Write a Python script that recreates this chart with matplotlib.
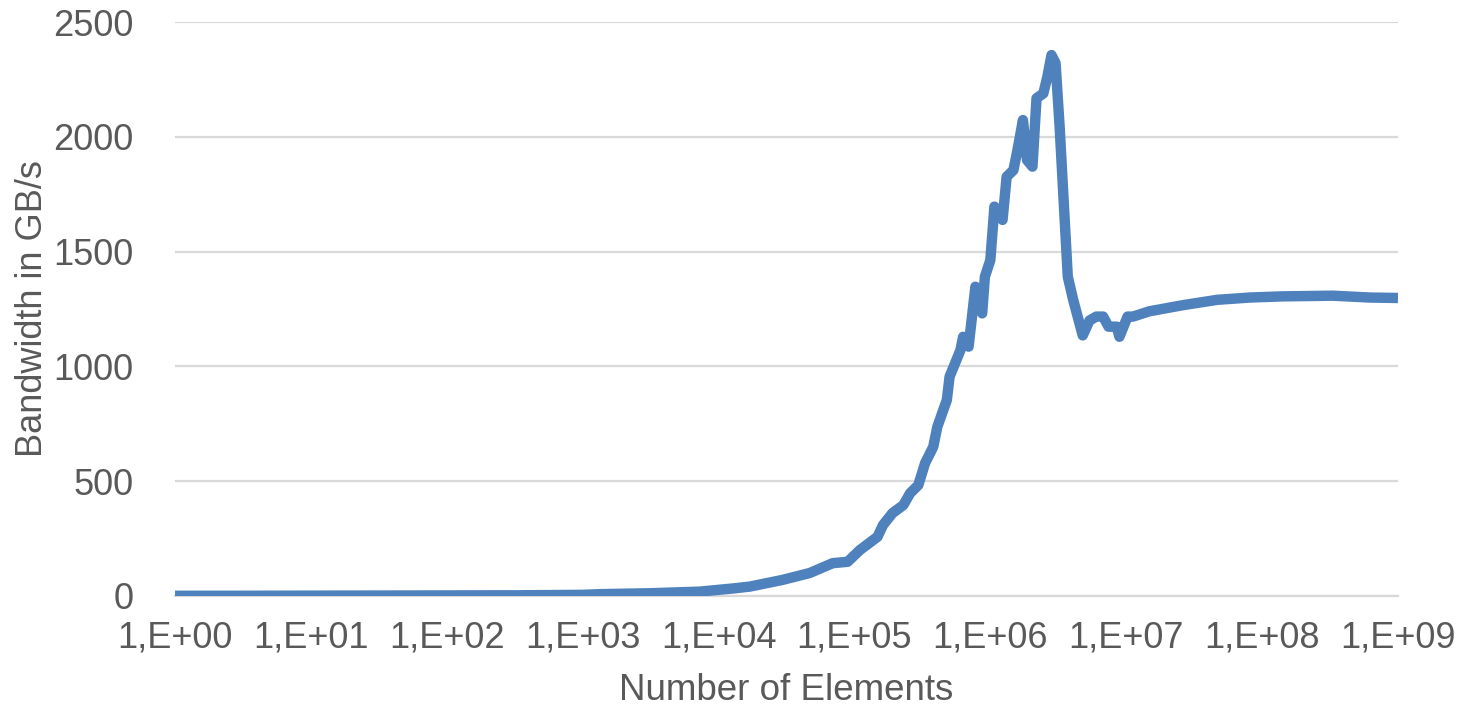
import numpy as np
import matplotlib
matplotlib.use('Agg')
import matplotlib.pyplot as plt
from matplotlib.ticker import FixedLocator, FuncFormatter, NullLocator

# exponent of the element count (log10) and measured bandwidth in GB/s
exponents = [0.0, 0.5, 1.0, 1.5, 2.0, 2.5, 3.0, 3.13, 3.5, 3.86, 4.11, 4.23,
             4.47, 4.67, 4.84, 4.95, 5.04, 5.17, 5.21, 5.28, 5.36, 5.41, 5.47,
             5.52, 5.58, 5.61, 5.68, 5.70, 5.78, 5.80, 5.84, 5.89, 5.94, 5.96,
             6.00, 6.03, 6.09, 6.12, 6.17, 6.20, 6.24, 6.27, 6.31, 6.34, 6.39,
             6.42, 6.45, 6.48, 6.51, 6.55, 6.57, 6.61, 6.68, 6.73, 6.78, 6.83,
             6.87, 6.93, 6.95, 7.01, 7.05, 7.17, 7.42, 7.67, 7.91, 8.15, 8.52,
             8.79, 9.0]
bandwidth = [1, 1, 1.5, 2, 2.5, 3, 5, 8, 12, 19, 33, 41,
             70, 100, 143, 149, 200, 258, 309, 361, 396, 448, 483,
             579, 650, 737, 854, 955, 1071, 1129, 1086, 1347, 1231, 1391,
             1463, 1696, 1638, 1826, 1855, 1943, 2073, 1899, 1870, 2168, 2189,
             2262, 2356, 2321, 2044, 1608, 1391, 1289, 1135, 1200, 1217, 1217,
             1173, 1173, 1129, 1217, 1217, 1240, 1267, 1290, 1300, 1305, 1308,
             1300, 1298]

y_ticks = [0, 500, 1000, 1500, 2000, 2500]
x_tick_exps = list(range(0, 10))

TEXT = '#595959'
GRID = '#d9d9d9'
LINE = '#4f81bd'

plt.rcParams['font.family'] = ['Liberation Sans', 'DejaVu Sans']

fig = plt.figure(figsize=(14.66, 7.08), dpi=100)
ax = fig.add_axes([0.1194, 0.1582, 0.9536 - 0.1194, 0.9689 - 0.1582])

x = 10.0 ** np.array(exponents)
ax.plot(x, bandwidth, color=LINE, linewidth=7.5, solid_joinstyle='round',
        solid_capstyle='butt', zorder=3)

ax.set_xscale('log')
ax.set_xlim(1, 1e9)
ax.set_ylim(0, 2500)

ax.xaxis.set_major_locator(FixedLocator([10.0 ** e for e in x_tick_exps]))
ax.xaxis.set_minor_locator(NullLocator())
ax.xaxis.set_major_formatter(
    FuncFormatter(lambda v, p: f"1,E+{int(round(np.log10(v))):02d}"))
ax.set_yticks(y_ticks)

ax.grid(axis='y', color=GRID, linewidth=1.6, zorder=0)
ax.set_axisbelow(True)
for s in ['top', 'right', 'left']:
    ax.spines[s].set_visible(False)
ax.spines['bottom'].set_color(GRID)
ax.spines['bottom'].set_linewidth(1.6)

ax.tick_params(axis='both', length=0, labelsize=26, colors=TEXT)
ax.tick_params(axis='x', pad=18)
ax.tick_params(axis='y', pad=30)

ax.set_xlabel('Number of Elements', fontsize=26.5, color=TEXT, labelpad=12)
ax.set_ylabel('Bandwidth in GB/s', fontsize=26, color=TEXT, labelpad=2)

fig.savefig('out.png', dpi=100)
